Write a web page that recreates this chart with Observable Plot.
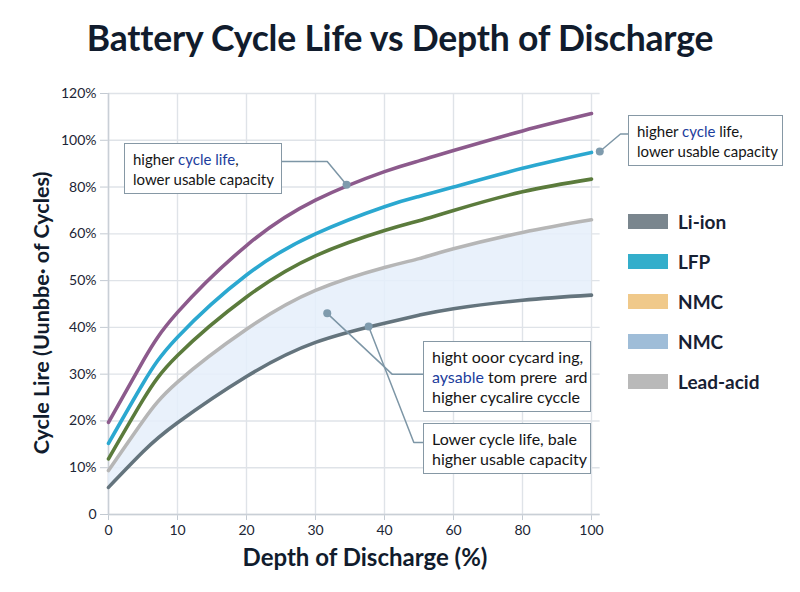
<!DOCTYPE html>
<html>
<head>
<meta charset="utf-8">
<script src="https://cdn.jsdelivr.net/npm/d3@7"></script>
<script src="https://cdn.jsdelivr.net/npm/@observablehq/plot@0.6"></script>
<style>
  body { margin: 0; background: #ffffff; font-family: Lato, "Open Sans", sans-serif; }
  #wrap { position: relative; width: 800px; height: 592px; overflow: hidden; }
  #title { height: 72px; line-height: 76px; text-align: center; font-size: 35.5px; font-weight: 700; color: #111c2d; letter-spacing: -0.2px; }
  #chart svg g[aria-label$="tick"] path, #chart svg .tick line { stroke: #c3cad2; }
  .box { position: absolute; background: #fff; border: 1.5px solid #8698a5; box-sizing: border-box;
         font-size: 15px; line-height: 20px; color: #151515; padding: 5px 8px; white-space: nowrap; }
  .box.big { font-size: 16px; }
  .box .hl { color: #1c3d9c; }
  .legend-row { position: absolute; left: 628px; height: 40px; display: flex; align-items: center;
                font-size: 19px; font-weight: 700; color: #172133; }
  .legend-row .sw { width: 40px; height: 15px; margin-right: 10px; }
</style>
</head>
<body>
<div id="wrap">
  <div id="title">Battery Cycle Life vs Depth of Discharge</div>
  <div id="chart"></div>
</div>
<script>
// Axis ticks (both axes use evenly spaced, piecewise-linear ticks)
const xTicks = [0, 10, 20, 30, 40, 60, 80, 100];
const yTicks = [0, 10, 20, 30, 40, 50, 60, 80, 100, 120];

// Depth of discharge (%) sample points
const dod = [0, 5, 10, 20, 30, 40, 50, 60, 80, 100];

// Cycle life (%) per chemistry
const ncaLife      = [19.7, 32.8, 43.2, 57.5, 74.4, 86.6, 91.2, 95.6, 104.0, 111.4];
const lfpLife      = [15.2, 28.0, 37.9, 51.2, 60.0, 71.6, 76.0, 80.0, 88.0, 94.8];
const nmcLife      = [11.9, 24.5, 34.0, 46.5, 55.3, 61.4, 65.6, 70.0, 78.0, 83.4];
const leadAcidLife = [9.4, 20.0, 28.3, 39.6, 47.9, 52.8, 54.7, 56.8, 60.6, 66.0];
const liIonLife    = [5.8, 13.4, 19.6, 29.5, 36.8, 40.9, 42.6, 44.0, 45.8, 46.9];

// Legend entries
const legendNames  = ["Li-ion", "LFP", "NMC", "NMC", "Lead-acid"];
const legendColors = ["#7a868e", "#33aecb", "#f0c98a", "#9fbdd8", "#b9b9b9"];

// Callout connectors: [dod, life] from box edge to the marked point
const calloutPaths = [
  [[25.1, 90.9], [31.7, 90.9], [34.5, 81.0]],
  [[110.7, 102.7], [108.4, 102.7], [102.4, 95.2]],
  [[51.4, 30.0], [42.2, 30.0], [31.7, 43.0]],
  [[51.4, 15.4], [48.5, 15.4], [37.7, 40.2]]
];

const W = 800, H = 520;
const mL = 108, mR = 209, mT = 21, mB = 78;

const series = [
  {name: "Lead-acid", values: leadAcidLife, color: "#b6b6b6"},
  {name: "Li-ion", values: liIonLife, color: "#64747d"},
  {name: "NMC", values: nmcLife, color: "#5b7b3c"},
  {name: "LFP", values: lfpLife, color: "#2ba8d0"},
  {name: "NCA", values: ncaLife, color: "#8c5a8c"}
];

const band = dod.map((d, i) => ({dod: d, low: liIonLife[i], high: leadAcidLife[i]}));

const lineMarks = series.map(s =>
  Plot.line(dod.map((d, i) => ({dod: d, life: s.values[i]})), {
    x: "dod", y: "life", stroke: s.color, strokeWidth: 3.6, curve: "natural"
  })
);

const connectorRows = calloutPaths.flatMap((p, k) => p.map(([x, y]) => ({k, x, y})));
const dotRows = calloutPaths.map(p => ({x: p[p.length - 1][0], y: p[p.length - 1][1]}));

const chart = Plot.plot({
  width: W,
  height: H,
  marginLeft: mL,
  marginRight: mR,
  marginTop: mT,
  marginBottom: mB,
  style: {fontFamily: "Lato, 'Open Sans', sans-serif", fontSize: "14px", color: "#1c2535", background: "transparent", overflow: "visible"},
  // piecewise-linear scales: the ticks are spread evenly over the frame
  x: {type: "linear", domain: xTicks, ticks: xTicks, tickSize: 6, tickPadding: 5, label: null},
  y: {type: "linear", domain: yTicks, ticks: yTicks, tickSize: 8, tickPadding: 4, label: null,
      tickFormat: d => d === 0 ? "0" : d + "%"},
  marks: [
    Plot.ruleY(yTicks, {x1: 0, x2: 102.5, stroke: "#dfe3e8", strokeWidth: 1.4}),
    Plot.ruleX(xTicks, {stroke: "#dfe3e8", strokeWidth: 1.4}),
    Plot.ruleX([0], {stroke: "#c9cfd6", strokeWidth: 1.5}),
    Plot.ruleY([0], {x1: 0, x2: 102.5, stroke: "#c9cfd6", strokeWidth: 1.5}),
    Plot.areaY(band, {x: "dod", y1: "low", y2: "high", fill: "#e5eefa", fillOpacity: 0.85, curve: "natural"}),
    ...lineMarks,
    Plot.line(connectorRows, {x: "x", y: "y", z: "k", stroke: "#7d96a6", strokeWidth: 1.5}),
    Plot.dot(dotRows, {x: "x", y: "y", r: 4, fill: "#7f9bad", stroke: "none"}),
    Plot.text(["Cycle Lire (Uunbbe\u00b7 of Cycles)"], {
      frameAnchor: "left", textAnchor: "middle", rotate: -90, dx: -66, dy: 9,
      fontSize: 21.5, fontWeight: 700, fill: "#111c2d"
    }),
    Plot.text(["Depth of Discharge (%)"], {
      frameAnchor: "bottom", dy: 51, dx: 15, fontSize: 24, fontWeight: 700, fill: "#111c2d"
    })
  ]
});
document.getElementById("chart").appendChild(chart);

// Callout boxes and legend drawn as HTML on top of the chart
const wrap = document.getElementById("wrap");
function box(left, top, width, height, html, cls) {
  const el = document.createElement("div");
  el.className = "box" + (cls ? " " + cls : "");
  Object.assign(el.style, {left: left + "px", top: top + "px", width: width + "px", height: height + "px"});
  el.innerHTML = html;
  wrap.appendChild(el);
}
box(124, 143, 158, 51, 'higher <span class="hl">cycle life</span>,<br>lower usable capacity');
box(628, 115, 155, 51, 'higher <span class="hl">cycle</span> life,<br>lower usable capacity');
box(423, 341, 168, 71, 'hight ooor cycard ing,<br><span class="hl">aysable</span> tom prere &nbsp;ard<br>higher cycalire cyccle', 'big');
box(423, 423, 168, 51, 'Lower cycle life, bale<br>higher usable capacity', 'big');

legendNames.forEach((name, i) => {
  const row = document.createElement("div");
  row.className = "legend-row";
  row.style.top = (201 + i * 40) + "px";
  row.innerHTML = `<span class="sw" style="background:${legendColors[i]}"></span><span>${name}</span>`;
  wrap.appendChild(row);
});
</script>
</body>
</html>
